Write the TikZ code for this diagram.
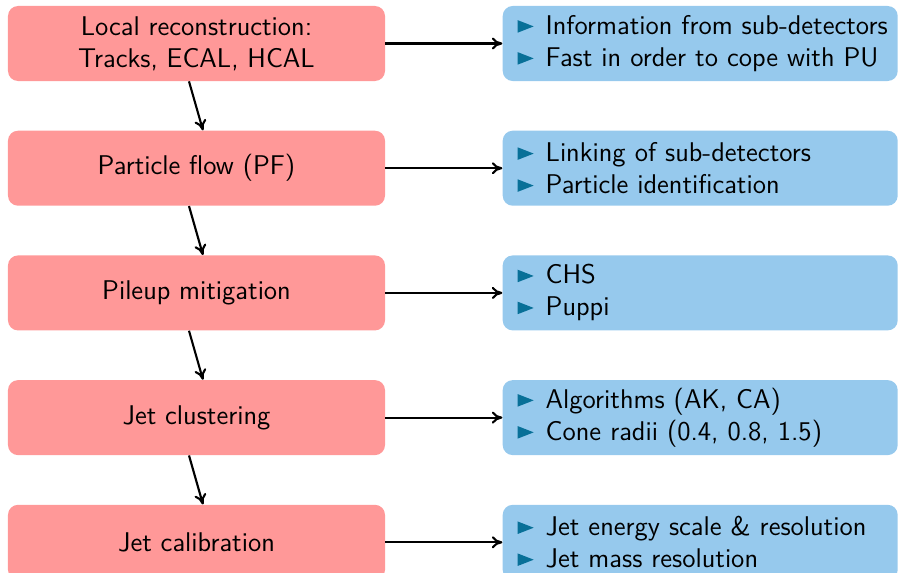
\documentclass[tikz,border=0pt]{standalone}
\usepackage{fontspec}
\usepackage{xcolor}
\usepackage{tikz}
\usetikzlibrary{arrows.meta, positioning}
\definecolor{stagered}{RGB}{255,152,152}
\definecolor{infoblue}{RGB}{150,201,237}
\definecolor{bulletblue}{RGB}{8,112,152}
\newcommand{\bul}{\hspace*{0.2cm}\tikz[baseline=0pt, sharp corners]\fill[bulletblue] (0,0.035) -- (0.32,0.16) -- (0,0.285) -- cycle;\hspace{0.24cm}}

\begin{document}
\begin{tikzpicture}[
          node distance=0.98cm and 2.34cm,
          stage/.style={rectangle, fill=stagered, rounded corners=0.2cm, minimum width=7.54cm, minimum height=1.5cm, align=center, font=\fontsize{15.4}{18.2}\selectfont\sffamily},
          info/.style={rectangle, fill=infoblue, rounded corners=0.2cm, text width=7.7cm, inner xsep=0.1cm, minimum height=1.5cm, align=left, font=\fontsize{15.4}{18.2}\selectfont\sffamily},
          flow/.style={-{To[length=2.1mm, width=2.4mm]}, line width=1.2pt}
        ]
          \useasboundingbox (0,0) rectangle (17.98,-11.46);

          % Processing chain
          \node[stage] (local) at (3.93,-0.87) {Local reconstruction:\\Tracks, ECAL, HCAL};
          \node[stage, below=of local] (pf) {Particle flow (PF)};
          \node[stage, below=of pf] (pileup) {Pileup mitigation};
          \node[stage, below=of pileup] (clust) {Jet clustering};
          \node[stage, below=of clust] (calib) {Jet calibration};

          % Details
          \node[info, right=of local] (localinfo) {\bul Information from sub-detectors\\\bul Fast in order to cope with PU};
          \node[info, right=of pf] (pfinfo) {\bul Linking of sub-detectors\\\bul Particle identification};
          \node[info, right=of pileup] (pileupinfo) {\bul CHS\\\bul Puppi};
          \node[info, right=of clust] (clustinfo) {\bul Algorithms (AK, CA)\\\bul Cone radii (0.4, 0.8, 1.5)};
          \node[info, right=of calib] (calibinfo) {\bul Jet energy scale \& resolution\\\bul Jet mass resolution};

          \draw[flow] ([xshift=-0.15cm]local.south) -- ([xshift=0.13cm]pf.north);
          \draw[flow] ([xshift=-0.15cm]pf.south) -- ([xshift=0.13cm]pileup.north);
          \draw[flow] ([xshift=-0.15cm]pileup.south) -- ([xshift=0.13cm]clust.north);
          \draw[flow] ([xshift=-0.15cm]clust.south) -- ([xshift=0.13cm]calib.north);

          \draw[flow] (local) -- (localinfo);
          \draw[flow] (pf) -- (pfinfo);
          \draw[flow] (pileup) -- (pileupinfo);
          \draw[flow] (clust) -- (clustinfo);
          \draw[flow] (calib) -- (calibinfo);
        \end{tikzpicture}
\end{document}
